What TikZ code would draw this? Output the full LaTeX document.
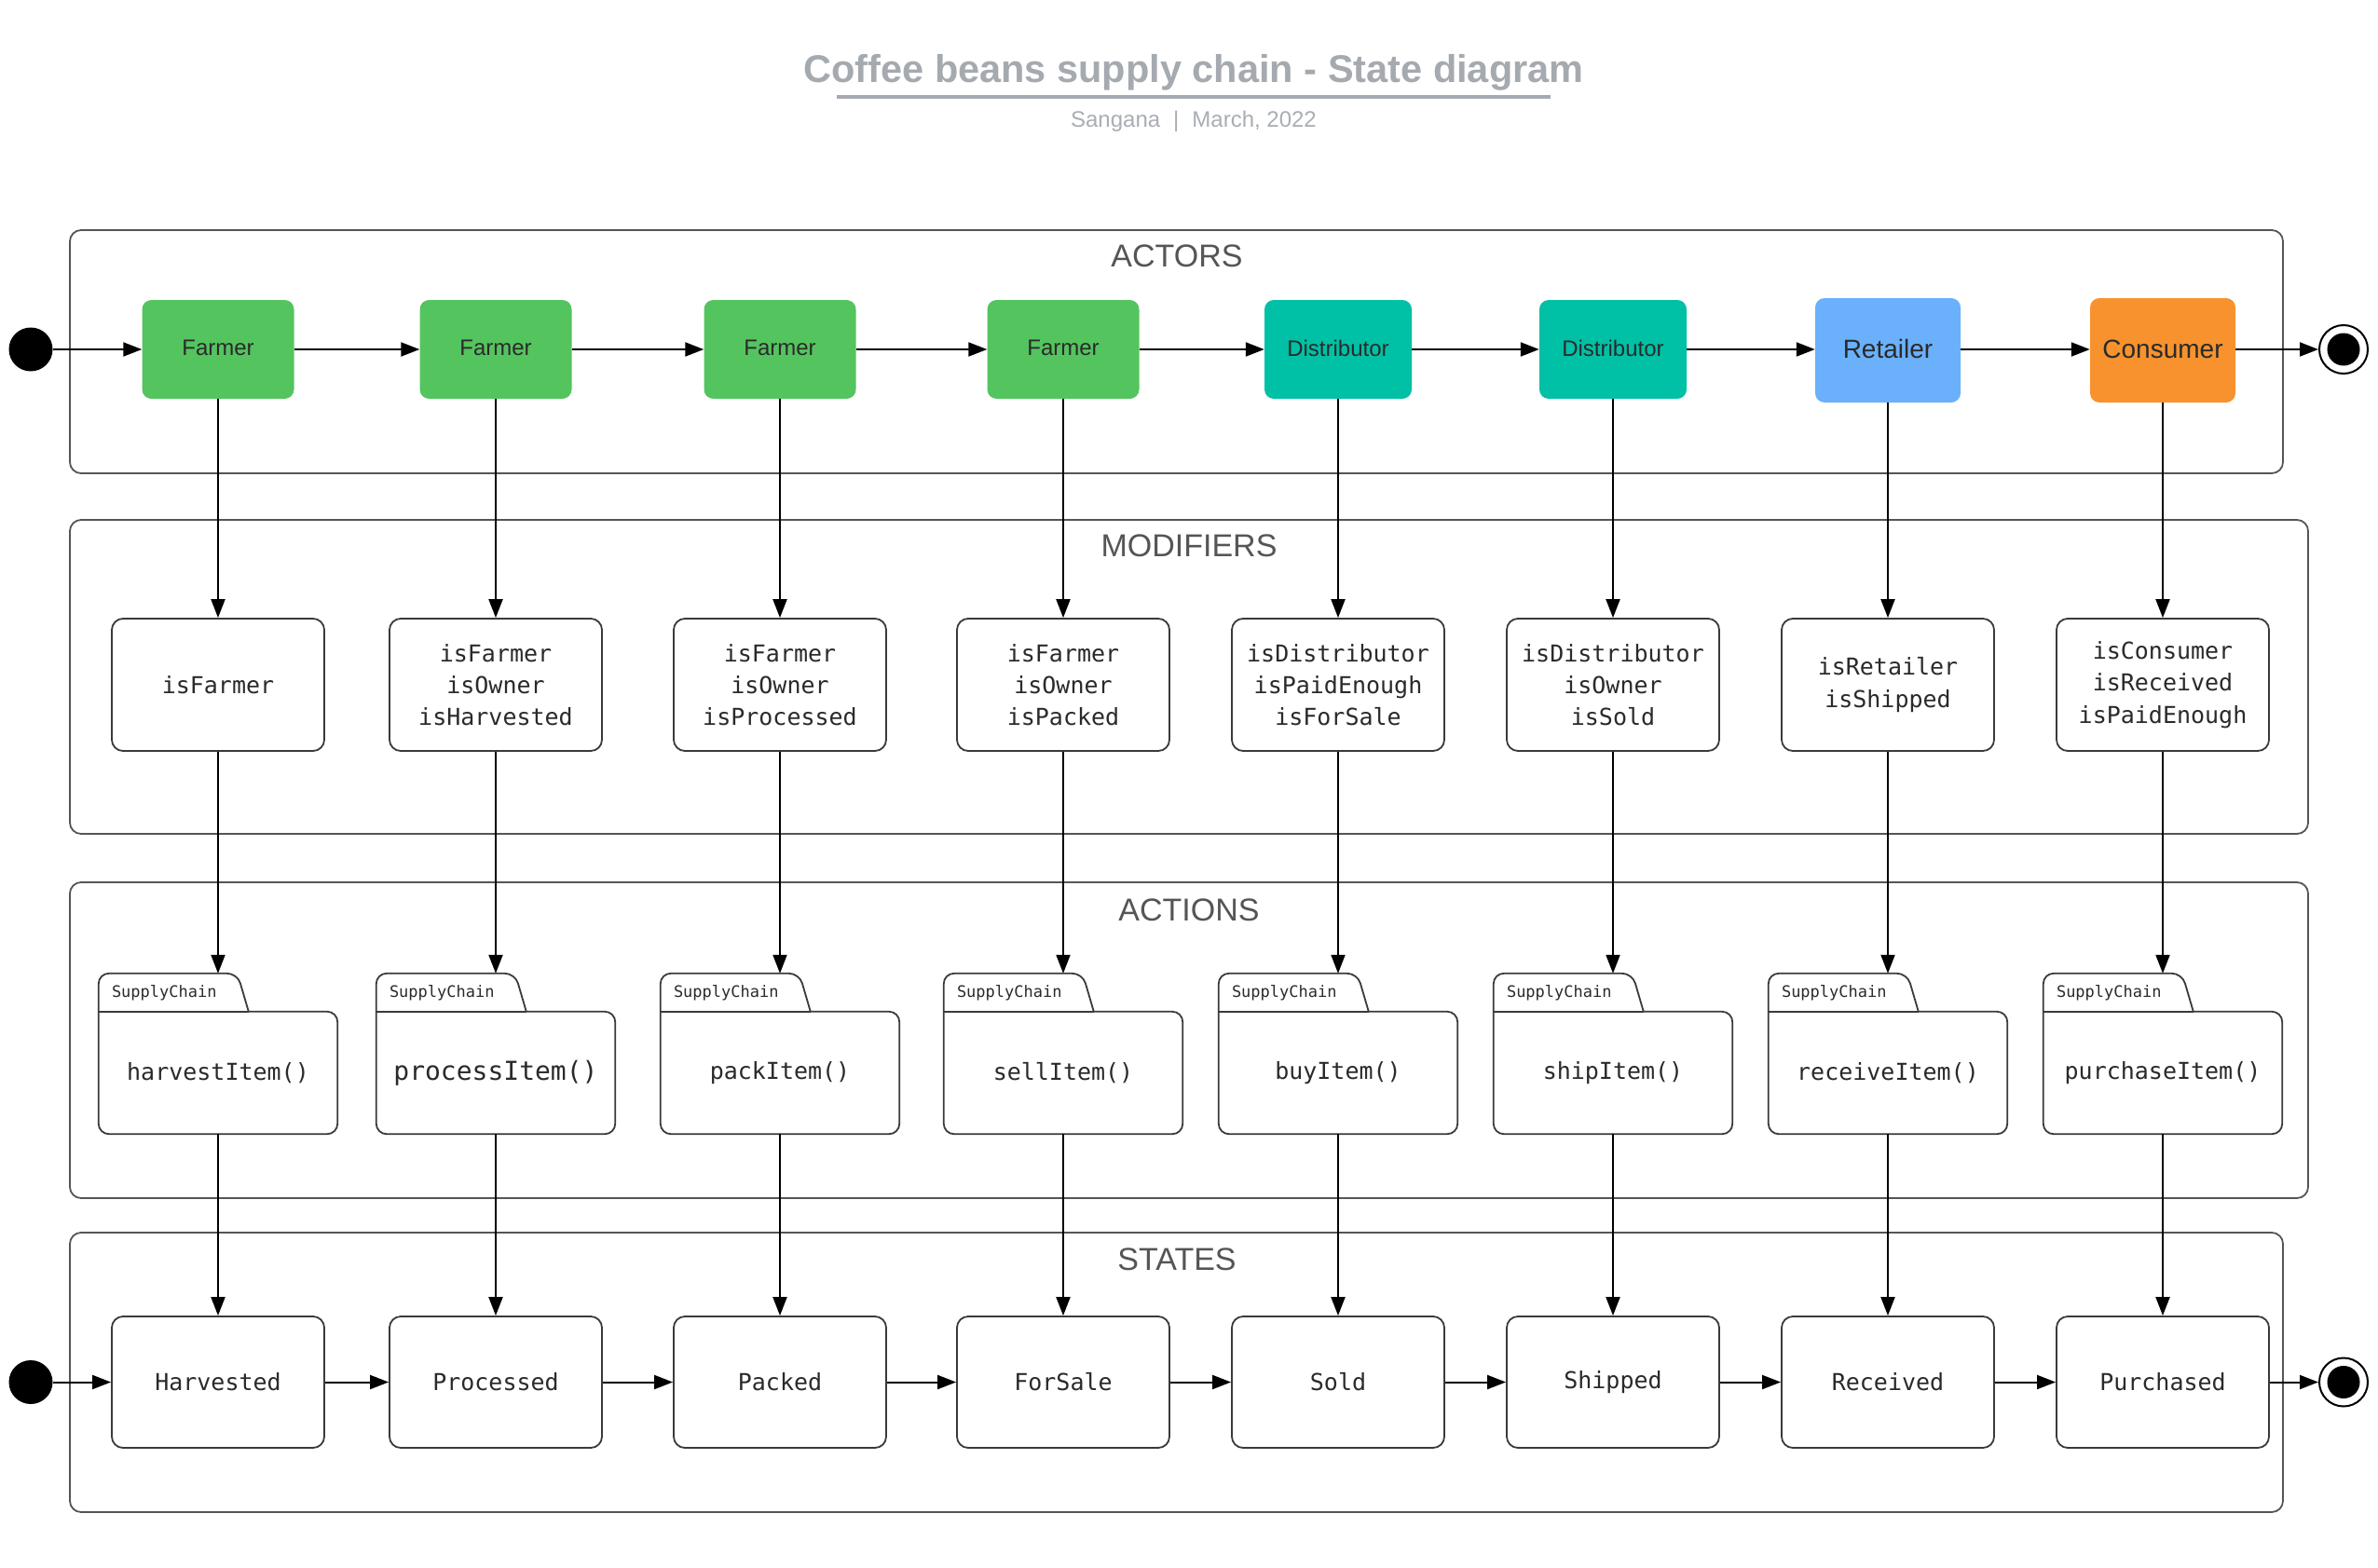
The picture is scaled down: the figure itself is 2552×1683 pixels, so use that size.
\documentclass[tikz,border=0pt]{standalone}
\usepackage{fontspec}
\setmainfont{Liberation Sans}
\newfontfamily\monof{DejaVu Sans Mono}
\usetikzlibrary{arrows.meta,calc}
\definecolor{titlegray}{HTML}{A5AAB0}
\definecolor{subgray}{HTML}{A9AEB4}
\definecolor{panelgray}{HTML}{555555}
\definecolor{boxgray}{HTML}{3A3A3A}
\definecolor{textdark}{HTML}{2A2A2A}
\definecolor{farmgreen}{HTML}{54C45E}
\definecolor{distteal}{HTML}{00C0A5}
\definecolor{retblue}{HTML}{6AB0FB}
\definecolor{consorange}{HTML}{F7922E}
\begin{document}
\begin{tikzpicture}[x=1pt,y=-1pt,
  panel/.style={draw=panelgray, line width=1.8pt, rounded corners=12pt},
  panellabel/.style={text=panelgray, font=\fontsize{34}{38}\selectfont, inner sep=0pt},
  actor/.style={rounded corners=10pt, minimum width=163pt, minimum height=106pt, text=textdark, font=\fontsize{24}{28}\selectfont, inner sep=0pt},
  bigactor/.style={actor, minimum width=156pt, minimum height=112pt, font=\fontsize{28}{32}\selectfont},
  modbox/.style={draw=boxgray, line width=1.8pt, rounded corners=12pt, minimum width=228pt, minimum height=142pt, align=center, text=textdark, font=\monof\fontsize{25}{34.2}\selectfont, inner sep=0pt},
  actbody/.style={minimum width=256pt, minimum height=131pt, text=textdark, font=\monof\fontsize{25}{30}\selectfont, inner sep=0pt},
  boxline/.style={draw=boxgray, line width=1.8pt, line join=round},
  tablabel/.style={text=textdark, font=\monof\fontsize{17}{20}\selectfont, inner sep=0pt, anchor=west},
  flow/.style={-{Triangle[length=20pt,width=15pt]}, line width=2pt, draw=black},
  startdot/.style={circle, fill=black, minimum size=47pt, inner sep=0pt},
  enddot/.style={circle, draw=black, line width=2pt, fill=white, minimum size=52pt, inner sep=0pt},
  enddotin/.style={circle, fill=black, minimum size=35pt, inner sep=0pt}
]
\useasboundingbox (0,0) rectangle (2552,1683);
\fill[white] (0,0) rectangle (2552,1683);

% title
\node[text=titlegray, font=\bfseries\fontsize{41.5}{46}\selectfont, inner sep=0pt] (title) at (1281,78) {Coffee beans supply chain - State diagram};
\draw[titlegray, line width=4pt] (898,104) -- (1664,104);
\node[text=subgray, font=\fontsize{24}{28}\selectfont, inner sep=0pt] (subtitle) at (1281,130) {Sangana\hspace{14pt}|\hspace{14pt}March, 2022};

% panels
\draw[panel] (75,247) rectangle (2450,508);
\draw[panel] (75,558) rectangle (2477,895);
\draw[panel] (75,947) rectangle (2477,1286);
\draw[panel] (75,1323) rectangle (2450,1623);
\node[panellabel] (lactors) at (1263,275) {ACTORS};
\node[panellabel] (lmods) at (1276,586) {MODIFIERS};
\node[panellabel] (lacts) at (1276,977) {ACTIONS};
\node[panellabel] (lstates) at (1263,1352) {STATES};

% actors
\node[actor, fill=farmgreen] (a1) at (234,375) {\raisebox{3pt}{Farmer}};
\node[actor, fill=farmgreen] (a2) at (532,375) {\raisebox{3pt}{Farmer}};
\node[actor, fill=farmgreen] (a3) at (837,375) {\raisebox{3pt}{Farmer}};
\node[actor, fill=farmgreen] (a4) at (1141,375) {\raisebox{3pt}{Farmer}};
\node[actor, fill=distteal, minimum width=158pt] (a5) at (1436,375) {\raisebox{3pt}{Distributor}};
\node[actor, fill=distteal, minimum width=158pt] (a6) at (1731,375) {\raisebox{3pt}{Distributor}};
\node[bigactor, fill=retblue] (a7) at (2026,376) {\raisebox{3pt}{Retailer}};
\node[bigactor, fill=consorange] (a8) at (2321,376) {\raisebox{3pt}{Consumer}};
\node[startdot] (i1) at (33,375) {};
\node[enddot] (f1) at (2515,375) {};
\node[enddotin] (f1c) at (2515,375) {};

% modifiers
\node[modbox] (m1) at (234,735) {isFarmer};
\node[modbox] (m2) at (532,735) {isFarmer\\isOwner\\isHarvested};
\node[modbox] (m3) at (837,735) {isFarmer\\isOwner\\isProcessed};
\node[modbox] (m4) at (1141,735) {isFarmer\\isOwner\\isPacked};
\node[modbox] (m5) at (1436,735) {isDistributor\\isPaidEnough\\isForSale};
\node[modbox] (m6) at (1731,735) {isDistributor\\isOwner\\isSold};
\node[modbox] (m7) at (2026,735) {isRetailer\\isShipped};
\node[modbox] (m8) at (2321,735) {isConsumer\\isReceived\\isPaidEnough};

% actions
\node[actbody] (p1) at (234,1151.5) {\raisebox{-3pt}{harvestItem()}};
\node[actbody, font=\monof\fontsize{28}{32}\selectfont] (p2) at (532,1151.5) {\raisebox{-3pt}{processItem()}};
\node[actbody] (p3) at (837,1151.5) {\raisebox{-3pt}{packItem()}};
\node[actbody] (p4) at (1141,1151.5) {\raisebox{-3pt}{sellItem()}};
\node[actbody] (p5) at (1436,1151.5) {\raisebox{-3pt}{buyItem()}};
\node[actbody] (p6) at (1731,1151.5) {\raisebox{-3pt}{shipItem()}};
\node[actbody] (p7) at (2026,1151.5) {\raisebox{-3pt}{receiveItem()}};
\node[actbody] (p8) at (2321,1151.5) {\raisebox{-3pt}{purchaseItem()}};
\foreach \i in {1,...,8}{
  \draw[boxline, rounded corners=11pt]
    ([xshift=161pt]p\i.north west) -- (p\i.north east) -- (p\i.south east) -- (p\i.south west)
    -- ([shift={(0,-41)}]p\i.north west) -- ([shift={(149,-41)}]p\i.north west) -- ([xshift=161pt]p\i.north west);
  \draw[boxline] (p\i.north west) -- ([xshift=161pt]p\i.north west);
  \node[tablabel] (s\i) at ([shift={(14,-20.5)}]p\i.north west) {SupplyChain};
  \coordinate (t\i) at ([shift={(0,-41)}]p\i.north);
}

% states
\node[modbox, minimum height=141pt] (st1) at (234,1483.5) {Harvested};
\node[modbox, minimum height=141pt] (st2) at (532,1483.5) {Processed};
\node[modbox, minimum height=141pt] (st3) at (837,1483.5) {Packed};
\node[modbox, minimum height=141pt] (st4) at (1141,1483.5) {ForSale};
\node[modbox, minimum height=141pt] (st5) at (1436,1483.5) {Sold};
\node[modbox, minimum height=141pt] (st6) at (1731,1483.5) {Shipped};
\node[modbox, minimum height=141pt] (st7) at (2026,1483.5) {Received};
\node[modbox, minimum height=141pt] (st8) at (2321,1483.5) {Purchased};
\node[startdot] (i2) at (33,1483.5) {};
\node[enddot] (f2) at (2515,1483.5) {};
\node[enddotin] (f2c) at (2515,1483.5) {};

% vertical connectors
\foreach \i in {1,...,8}{
  \draw[flow] (a\i) -- (m\i);
  \draw[flow] (m\i) -- (t\i);
  \draw[flow] (p\i) -- (st\i);
}

% horizontal connectors
\draw[flow] (i1) -- (a1);
\foreach \i/\j in {1/2,2/3,3/4,4/5,5/6,6/7,7/8}{
  \draw[flow] (a\i.east |- i1) -- (a\j.west |- i1);
  \draw[flow] (st\i) -- (st\j);
}
\draw[flow] (a8.east |- i1) -- (f1);
\draw[flow] (i2) -- (st1);
\draw[flow] (st8) -- (f2);
\end{tikzpicture}
\end{document}
